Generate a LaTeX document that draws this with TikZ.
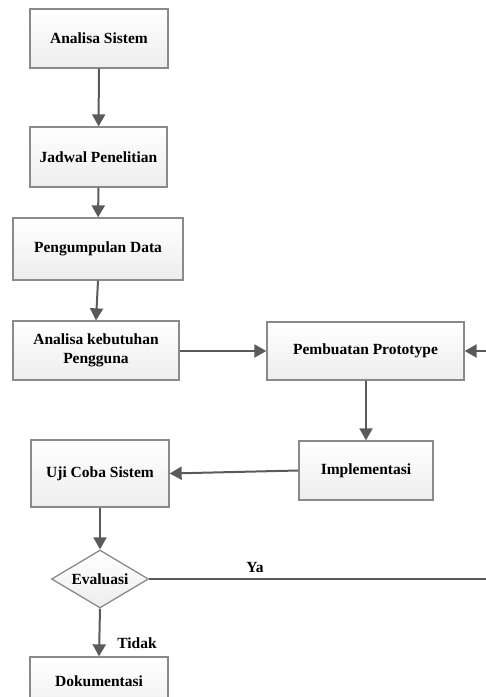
\documentclass[tikz,border=0pt]{standalone}
\usepackage{fontspec}
\setmainfont{Liberation Serif}
\usetikzlibrary{shapes.geometric,arrows.meta}

\definecolor{edgegray}{HTML}{8A8A8A}
\definecolor{linegray}{HTML}{5A5A5A}

\tikzset{
  labelfont/.style={font=\fontsize{15.5}{19}\selectfont\bfseries},
  procbox/.style={draw=edgegray, line width=1.3pt, top color=white, bottom color=gray!14,
    align=center, inner sep=2pt, text=black, labelfont},
  decision/.style={diamond, draw=edgegray, line width=1.3pt, top color=white, bottom color=gray!14,
    aspect=1.67, inner sep=0pt, minimum width=97pt, minimum height=58pt, text=black, labelfont},
  flow/.style={draw=linegray, line width=2pt, -{Triangle[length=12pt,width=13pt]}},
  plainflow/.style={draw=linegray, line width=2pt},
  flowlabel/.style={labelfont, text=black, inner sep=0pt}
}

\begin{document}
\begin{tikzpicture}[x=1pt,y=-1pt]
  \useasboundingbox (0,0) rectangle (486,697);
  \begin{scope}
  \clip (0,0) rectangle (486,697);

  % process steps
  \node[procbox, minimum width=138pt, minimum height=59pt] (as)  at (99,38.5)  {Analisa Sistem};
  \node[procbox, minimum width=137pt, minimum height=60pt] (jp)  at (98.5,157) {Jadwal Penelitian};
  \node[procbox, minimum width=170pt, minimum height=62pt] (pd)  at (98,249)   {Pengumpulan Data};
  \node[procbox, minimum width=166pt, minimum height=59pt] (akb) at (96,350.5) {Analisa kebutuhan\\Pengguna};
  \node[procbox, minimum width=197pt, minimum height=58pt] (pp)  at (365.5,351) {Pembuatan Prototype};
  \node[procbox, minimum width=134pt, minimum height=59pt] (imp) at (366,470.5) {Implementasi};
  \node[procbox, minimum width=138pt, minimum height=67pt] (uji) at (100,473.5) {Uji Coba Sistem};
  \node[decision] (ev) at (100,579) {Evaluasi};
  \node[procbox, minimum width=138pt, minimum height=62pt] (dok) at (99,688) {};
  \node[flowlabel] (doktext) at (99,681) {Dokumentasi};

  % loose ends at the right border
  \coordinate (ppin) at (486,351);
  \coordinate (yaout) at (486,579);

  % connectors
  \draw[flow] (as) -- (jp);
  \draw[flow] (jp) -- (pd);
  \draw[flow] (pd.south) -- (akb.north);
  \draw[flow] (akb.east |- pp.west) -- (pp.west);
  \draw[flow] (ppin) -- (pp.east);
  \draw[flow] (pp.south -| imp.north) -- (imp.north);
  \draw[flow] (imp.west) -- (uji.east);
  \draw[flow] (uji.south -| ev.north) -- (ev.north);
  \draw[plainflow] (ev.east) -- (yaout);
  \draw[flow] (ev.south) -- (dok.north);

  % branch labels
  \node[flowlabel] (ya) at (255,567) {Ya};
  \node[flowlabel] (tidak) at (137,643) {Tidak};
  \end{scope}
\end{tikzpicture}
\end{document}
